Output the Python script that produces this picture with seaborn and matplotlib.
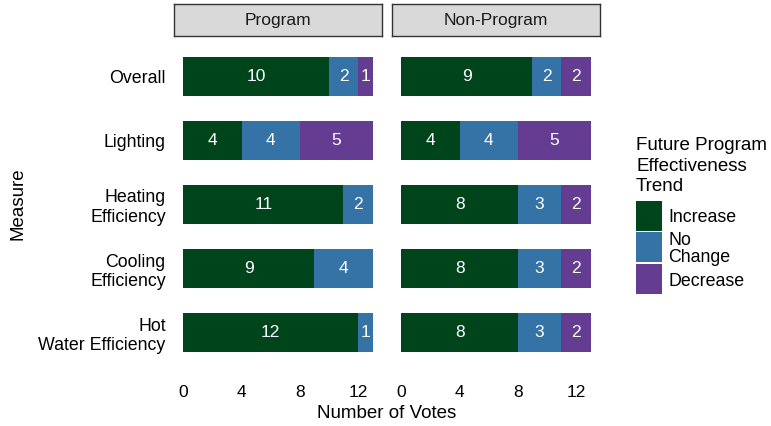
import matplotlib
matplotlib.use("Agg")
import matplotlib.pyplot as plt
import seaborn as sns
import pandas as pd
import numpy as np

measures = ["Overall", "Lighting", "Heating\nEfficiency", "Cooling\nEfficiency", "Hot\nWater Efficiency"]
trends = ["Increase", "No\nChange", "Decrease"]
groups = ["Program", "Non-Program"]

program_increase = [10, 4, 11, 9, 12]
program_nochange = [2, 4, 2, 4, 1]
program_decrease = [1, 5, 0, 0, 0]

nonprogram_increase = [9, 4, 8, 8, 8]
nonprogram_nochange = [2, 4, 3, 3, 3]
nonprogram_decrease = [2, 5, 2, 2, 2]

colors = ["#00441b", "#3572a5", "#643c92"]

votes = {
    "Program": [program_increase, program_nochange, program_decrease],
    "Non-Program": [nonprogram_increase, nonprogram_nochange, nonprogram_decrease],
}

sns.set_style("white")
plt.rcParams["font.family"] = ["Liberation Sans", "DejaVu Sans"]
plt.rcParams["text.color"] = "black"
plt.rcParams["xtick.color"] = "black"
plt.rcParams["ytick.color"] = "black"

W, H = 771, 426
fig = plt.figure(figsize=(W / 100, H / 100), dpi=100)


def fx(px):
    return px / W


def fy(py):
    return 1 - py / H


panels = [(174, 382), (392, 600)]
top, bottom = 38, 371

for (x0, x1), grp in zip(panels, groups):
    ax = fig.add_axes([fx(x0), fy(bottom), fx(x1) - fx(x0), fy(top) - fy(bottom)])
    vals = np.array(votes[grp])
    cum = np.cumsum(vals, axis=0)
    # draw the cumulative totals from the back forward to get stacked bars
    for i in range(len(trends) - 1, -1, -1):
        df = pd.DataFrame({"Measure": measures, "Votes": cum[i]})
        sns.barplot(data=df, x="Votes", y="Measure", orient="h", color=colors[i],
                    width=0.6, saturation=1, ax=ax, linewidth=0)
    for i in range(len(trends)):
        starts = cum[i] - vals[i]
        for j, v in enumerate(vals[i]):
            if v > 0:
                ax.text(starts[j] + v / 2, j, str(v), color="white", fontsize=12.5,
                        ha="center", va="center")
    ax.set_xlim(-0.65, 13.65)
    ax.set_ylim(4.6, -0.6)
    ax.set_xticks([0, 4, 8, 12])
    ax.tick_params(axis="x", labelsize=12.5, length=0, pad=10)
    ax.tick_params(axis="y", labelsize=12.8, length=0, pad=6)
    for s in ax.spines.values():
        s.set_visible(False)
    ax.set_xlabel("")
    ax.set_ylabel("")
    if grp == "Non-Program":
        ax.set_yticklabels([])
    # facet strip
    sax = fig.add_axes([fx(x0), fy(36), fx(x1) - fx(x0), fy(4) - fy(36)])
    sax.set_facecolor("#d9d9d9")
    sax.set_xticks([])
    sax.set_yticks([])
    for s in sax.spines.values():
        s.set_visible(True)
        s.set_color("#333333")
        s.set_linewidth(1)
    sax.text(0.5, 0.5, grp, ha="center", va="center", fontsize=12.5, color="#1a1a1a",
             transform=sax.transAxes)

fig.text(fx(387), fy(413), "Number of Votes", ha="center", va="center", fontsize=13.5)
fig.text(fx(18), fy(204), "Measure", ha="center", va="center", fontsize=13.5, rotation=90)

# legend
fig.text(fx(636), fy(166), "Future Program\nEffectiveness\nTrend", ha="left", va="center",
         fontsize=13.5, linespacing=1.3)
key_tops = [201, 232, 264]
for c, lab, kt in zip(colors, trends, key_tops):
    kax = fig.add_axes([fx(636), fy(kt + 30), fx(662) - fx(636), fy(kt) - fy(kt + 30)])
    kax.set_facecolor(c)
    kax.set_xticks([])
    kax.set_yticks([])
    for s in kax.spines.values():
        s.set_visible(False)
    fig.text(fx(668), fy(kt + 17), lab, ha="left", va="center", fontsize=12.8, linespacing=1.0)

fig.savefig("out.png", dpi=100)
